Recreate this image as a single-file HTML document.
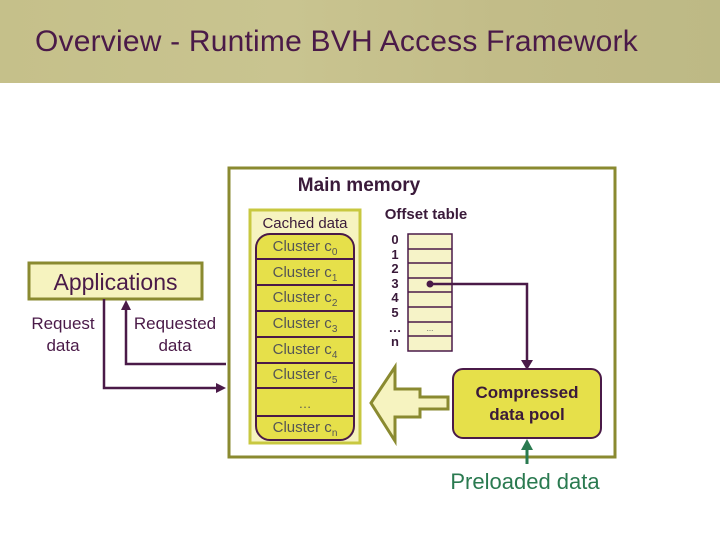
<!DOCTYPE html>
<html><head><style>
body{margin:0;width:720px;height:540px;background:#fff;position:relative;overflow:hidden;font-family:"Liberation Sans",sans-serif}
.hdr{position:absolute;left:0;top:0;width:720px;height:83px;background:linear-gradient(90deg,#c5c08a,#c9c490 40%,#c2bc88 70%,#bdb985)}
.t{position:absolute;left:35px;top:25px;font-size:30px;color:#4a1a48;letter-spacing:0.2px}
.a{position:absolute;font-size:17px;color:#4a1a48;text-align:center;line-height:22px}
</style></head><body>
<div class="hdr"></div>
<div class="t">Overview - Runtime BVH Access Framework</div>
<svg width="720" height="540" style="position:absolute;left:0;top:0">
<rect x="229" y="168" width="386" height="289" fill="none" stroke="#8a8a30" stroke-width="3"/>
<rect x="29" y="263" width="173" height="36" fill="#f6f3bf" stroke="#8a8a30" stroke-width="3"/>
<rect x="250" y="210" width="110" height="233" fill="#f6f3c0" stroke="#c8c840" stroke-width="3"/>
<rect x="256" y="234" width="98" height="206" rx="14" fill="#e6e04a" stroke="#4a1a48" stroke-width="2"/>
<g stroke="#4a1a48" stroke-width="2">
<line x1="256" y1="259" x2="354" y2="259"/><line x1="256" y1="285" x2="354" y2="285"/>
<line x1="256" y1="311" x2="354" y2="311"/><line x1="256" y1="337" x2="354" y2="337"/>
<line x1="256" y1="363" x2="354" y2="363"/><line x1="256" y1="388" x2="354" y2="388"/>
<line x1="256" y1="416" x2="354" y2="416"/>
</g>
<rect x="408" y="234" width="44" height="117" fill="#f6f3c8" stroke="#4a1a48" stroke-width="1.5"/>
<g stroke="#4a1a48" stroke-width="1.5">
<line x1="408" y1="249" x2="452" y2="249"/><line x1="408" y1="263" x2="452" y2="263"/>
<line x1="408" y1="278" x2="452" y2="278"/><line x1="408" y1="292" x2="452" y2="292"/>
<line x1="408" y1="307" x2="452" y2="307"/><line x1="408" y1="322" x2="452" y2="322"/>
<line x1="408" y1="336" x2="452" y2="336"/>
</g>
<circle cx="430" cy="284" r="3.5" fill="#4a1a48"/>
<polyline points="430,284 527,284 527,362" fill="none" stroke="#4a1a48" stroke-width="2.5"/>
<polygon points="521,360 533,360 527,370" fill="#4a1a48"/>
<rect x="453" y="369" width="148" height="69" rx="10" fill="#e6e04a" stroke="#4a1a48" stroke-width="2"/>
<polygon points="371,403 395,367 395,389 420,389 420,397 448,397 448,409 420,409 420,417 395,417 395,441" fill="#f6f3c0" stroke="#8a8a30" stroke-width="3"/>
<line x1="527" y1="464" x2="527" y2="448" stroke="#2a7a50" stroke-width="3"/>
<polygon points="521,450 533,450 527,439" fill="#2a7a50"/>
<polyline points="104,299 104,388 218,388" fill="none" stroke="#4a1a48" stroke-width="2.5"/>
<polygon points="216,383 226,388 216,393" fill="#4a1a48"/>
<polyline points="226,364 126,364 126,308" fill="none" stroke="#4a1a48" stroke-width="2.5"/>
<polygon points="121,310 131,310 126,300" fill="#4a1a48"/>
</svg>
<div class="a" style="left:29px;top:268px;width:173px;font-size:23px;line-height:28px">Applications</div>
<div class="a" style="left:23px;top:313px;width:80px">Request<br>data</div>
<div class="a" style="left:125px;top:313px;width:100px">Requested<br>data</div>
<div class="a" style="left:229px;top:175px;width:260px;font-weight:bold;font-size:19px;color:#3a1a3a">Main memory</div>
<div class="a" style="left:250px;top:213px;width:110px;font-size:15px;color:#3a1a3a">Cached data</div>
<div class="a" style="left:366px;top:204px;width:120px;font-size:15px;font-weight:bold;color:#3a1a3a">Offset table</div>
<div class="a" style="left:256px;top:236px;width:98px;font-size:15px;color:#555">Cluster c<sub style="font-size:10px">0</sub></div>
<div class="a" style="left:256px;top:262px;width:98px;font-size:15px;color:#555">Cluster c<sub style="font-size:10px">1</sub></div>
<div class="a" style="left:256px;top:287px;width:98px;font-size:15px;color:#555">Cluster c<sub style="font-size:10px">2</sub></div>
<div class="a" style="left:256px;top:313px;width:98px;font-size:15px;color:#555">Cluster c<sub style="font-size:10px">3</sub></div>
<div class="a" style="left:256px;top:339px;width:98px;font-size:15px;color:#555">Cluster c<sub style="font-size:10px">4</sub></div>
<div class="a" style="left:256px;top:364px;width:98px;font-size:15px;color:#555">Cluster c<sub style="font-size:10px">5</sub></div>
<div class="a" style="left:256px;top:393px;width:98px;font-size:13px;color:#555">…</div>
<div class="a" style="left:256px;top:417px;width:98px;font-size:15px;color:#555">Cluster c<sub style="font-size:10px">n</sub></div>
<div class="a" style="left:380px;top:233px;width:30px;font-size:13px;font-weight:bold;line-height:14.6px;color:#3a1a3a">0<br>1<br>2<br>3<br>4<br>5<br>…<br>n</div>
<div class="a" style="left:408px;top:318px;width:44px;font-size:8px;color:#555">...</div>
<div class="a" style="left:453px;top:382px;width:148px;font-weight:bold;color:#3a1a3a">Compressed<br>data pool</div>
<div class="a" style="left:415px;top:469px;width:220px;font-size:22px;line-height:26px;color:#2a7a50">Preloaded data</div>
</body></html>
